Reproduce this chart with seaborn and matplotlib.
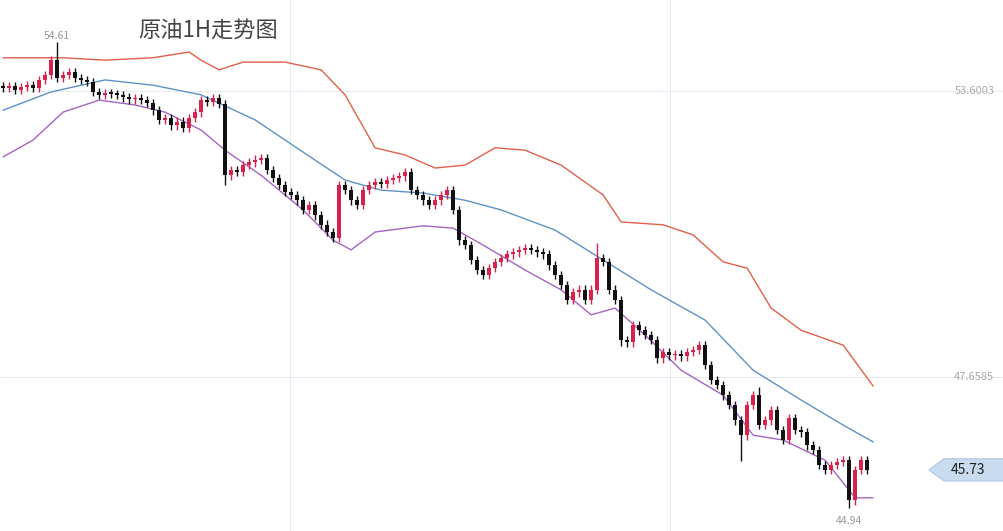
import numpy as np
import pandas as pd
import matplotlib
matplotlib.use("Agg")
import matplotlib.pyplot as plt
import seaborn as sns
from matplotlib.patches import Polygon

# Close prices per 1H candle (open = previous close)
closes = [53.66, 53.70, 53.62, 53.68, 53.72, 53.66, 53.83, 53.93, 54.24, 53.87,
          53.93, 53.99, 53.87, 53.83, 53.79, 53.58, 53.52, 53.56, 53.54, 53.52,
          53.47, 53.43, 53.45, 53.41, 53.35, 53.20, 53.00, 53.04, 52.89, 52.96,
          52.83, 53.04, 53.16, 53.41, 53.37, 53.45, 53.33, 51.85, 51.96, 51.92,
          52.06, 52.12, 52.17, 52.21, 51.96, 51.79, 51.65, 51.50, 51.44, 51.33,
          51.13, 51.23, 51.02, 50.82, 50.67, 50.55, 51.65, 51.54, 51.33, 51.23,
          51.54, 51.65, 51.71, 51.67, 51.75, 51.79, 51.83, 51.92, 51.54, 51.44,
          51.33, 51.23, 51.33, 51.44, 51.54, 51.13, 50.50, 50.40, 50.09, 49.88,
          49.78, 49.92, 50.05, 50.13, 50.21, 50.25, 50.30, 50.34, 50.30, 50.25,
          50.21, 49.98, 49.78, 49.57, 49.26, 49.42, 49.47, 49.26, 49.47, 50.13,
          50.05, 49.47, 49.26, 48.43, 48.38, 48.74, 48.63, 48.53, 48.43, 48.05,
          48.18, 48.11, 48.14, 48.09, 48.18, 48.22, 48.32, 47.91, 47.60, 47.49,
          47.28, 47.08, 46.76, 46.45, 47.08, 47.28, 46.66, 46.76, 46.97, 46.56,
          46.35, 46.81, 46.56, 46.51, 46.24, 46.14, 45.83, 45.73, 45.83, 45.89,
          45.93, 45.10, 45.73, 45.93, 45.73]
first_open = 53.70
wick = 0.09
# notable wick extremes: index -> (high, low)
spikes = {9: (54.61, None), 37: (None, 51.65), 99: (50.45, None), 103: (None, 48.30),
          123: (None, 45.92), 126: (47.45, None), 141: (None, 44.94)}

# Bollinger bands, sampled at candle indices
upper_idx = [0, 10, 17, 25, 31, 33, 36, 40, 47, 53, 57, 62, 67, 72, 77, 82, 87, 93,
             100, 103, 110, 115, 120, 124, 128, 133, 140, 145]
upper_val = [54.29, 54.29, 54.24, 54.29, 54.41, 54.24, 54.04, 54.20, 54.20, 54.04,
             53.52, 52.42, 52.27, 52.00, 52.06, 52.42, 52.37, 52.06, 51.44, 50.88,
             50.82, 50.61, 50.05, 49.92, 49.09, 48.63, 48.32, 47.47]
mid_idx = [0, 8, 17, 25, 33, 42, 50, 57, 63, 70, 77, 83, 92, 100, 108, 117, 125,
           133, 140, 145]
mid_val = [53.20, 53.58, 53.83, 53.72, 53.52, 53.00, 52.33, 51.75, 51.54, 51.48,
           51.33, 51.13, 50.71, 50.09, 49.47, 48.84, 47.80, 47.18, 46.66, 46.31]
lower_idx = [0, 5, 10, 16, 22, 27, 33, 37, 43, 50, 55, 58, 62, 70, 75, 80, 87, 93,
             98, 102, 107, 113, 120, 125, 130, 137, 142, 145]
lower_val = [52.23, 52.58, 53.16, 53.41, 53.31, 53.16, 52.79, 52.37, 51.85, 51.13,
             50.50, 50.30, 50.67, 50.80, 50.75, 50.40, 49.88, 49.47, 48.95, 49.09,
             48.53, 47.80, 47.28, 46.45, 46.35, 45.93, 45.15, 45.15]

axis_labels = [53.6003, 47.6585]
last_price = 45.73

sns.set_style("white")
plt.rcParams['font.family'] = ['Noto Sans CJK SC', 'DejaVu Sans']

fig = plt.figure(figsize=(10.04, 5.31), dpi=100)
ax = fig.add_axes([0, 0, 1, 1])
ax.set_facecolor("#eaf3fc")
ax.set_xlim(-0.5, 166.8)
ax.set_ylim(44.46, 55.49)
ax.axis("off")

# faint grid
for v in axis_labels:
    ax.axhline(v, color="#e2eaf2", lw=0.7, zorder=0)
for gx in [47.8, 111.2]:
    ax.axvline(gx, color="#e2eaf2", lw=0.7, zorder=0)

bands = pd.concat([
    pd.DataFrame({"i": upper_idx, "v": upper_val, "band": "upper"}),
    pd.DataFrame({"i": mid_idx, "v": mid_val, "band": "mid"}),
    pd.DataFrame({"i": lower_idx, "v": lower_val, "band": "lower"}),
])
sns.lineplot(data=bands, x="i", y="v", hue="band", ax=ax, legend=False, lw=1.0,
             palette={"upper": "#e2604c", "mid": "#5d92c8", "lower": "#a464c4"},
             zorder=2)

opens = [first_open] + closes[:-1]
for i, (o, c) in enumerate(zip(opens, closes)):
    col = "#d8224c" if c >= o else "#111111"
    hi = max(o, c) + wick
    lo = min(o, c) - wick
    if i in spikes:
        h, l = spikes[i]
        hi = h if h else hi
        lo = l if l else lo
    ax.vlines(i, lo, hi, color=col, lw=1.0, zorder=3)
    body = max(abs(c - o), 0.03)
    ax.bar(i, body, bottom=min(o, c), width=0.75, color=col, zorder=4, linewidth=0)

ax.text(22.5, 54.85, "原油1H走势图", fontsize=16, color="#444444", ha="left", va="center")
ax.text(9, 54.75, "54.61", fontsize=7.5, color="#999999", ha="center", va="center")
ax.text(141, 44.66, "44.94", fontsize=7.5, color="#999999", ha="center", va="center")
for v in axis_labels:
    ax.text(165.2, v, f"{v:.4f}", fontsize=8, color="#aaaaaa", ha="right", va="center")

# current price tag
tag = Polygon([[154.3, last_price], [156.8, last_price + 0.23], [166.8, last_price + 0.23],
               [166.8, last_price - 0.23], [156.8, last_price - 0.23]],
              closed=True, facecolor="#c9dcef", edgecolor="#b8cde3", zorder=5)
ax.add_patch(tag)
ax.text(163.7, last_price, f"{last_price:.2f}", fontsize=10, color="#222222",
        ha="right", va="center", zorder=6)

fig.savefig("out.png", dpi=100)
